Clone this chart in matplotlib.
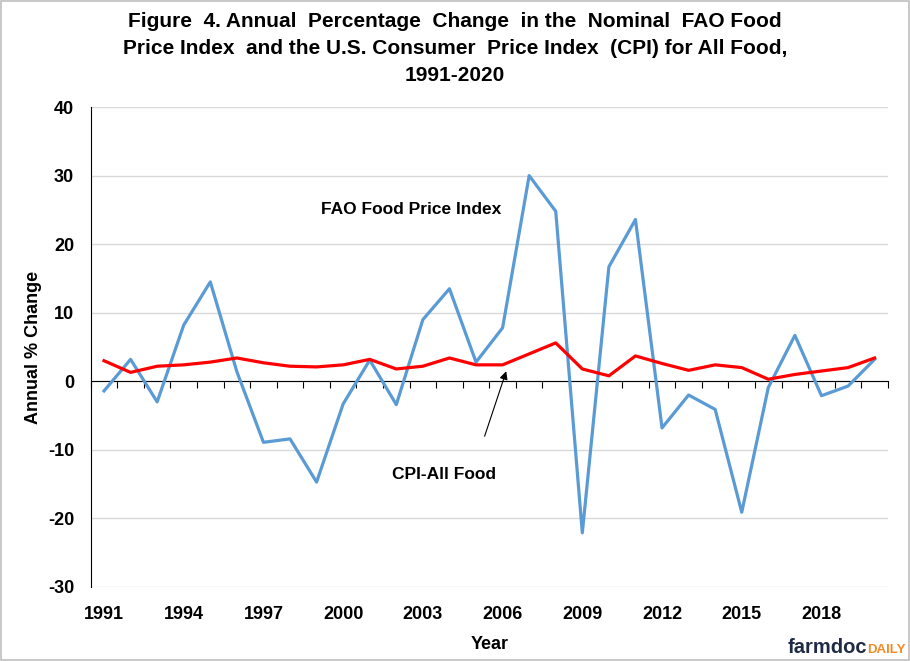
import numpy as np
import matplotlib
matplotlib.use('Agg')
import matplotlib.pyplot as plt
from matplotlib.patches import Rectangle

plt.rcParams['font.family'] = ['Liberation Sans', 'DejaVu Sans']
plt.rcParams['axes.unicode_minus'] = False

years = list(range(1991, 2021))
fao = [-1.4, 3.2, -3.0, 8.2, 14.5, 1.4, -8.9, -8.4, -14.7, -3.3,
       3.1, -3.4, 9.0, 13.5, 2.8, 7.8, 30.0, 24.8, -22.1, 16.7,
       23.6, -6.8, -2.0, -4.1, -19.1, -0.9, 6.7, -2.1, -0.7, 3.2]
cpi = [3.0, 1.3, 2.2, 2.4, 2.8, 3.4, 2.7, 2.2, 2.1, 2.4,
       3.2, 1.8, 2.2, 3.4, 2.4, 2.4, 4.0, 5.6, 1.8, 0.8,
       3.7, 2.6, 1.6, 2.4, 2.0, 0.3, 1.0, 1.5, 2.0, 3.4]
label_years = years[::3]

fig = plt.figure(figsize=(9.1, 6.61), dpi=100)
ax = fig.add_axes([0.0997, 0.112, 0.876, 0.726])

x = np.arange(len(years))
ax.plot(x, fao, color='#5b9bd5', lw=2.3, zorder=3)
ax.plot(x, cpi, color='#ff0000', lw=2.3, zorder=4)

ax.set_xlim(-0.5, len(years) - 0.5)
ax.set_ylim(-30, 40)
ax.set_yticks(range(-30, 41, 10))
ax.grid(axis='y', color='#d9d9d9', lw=1)
ax.set_axisbelow(True)

for s in ['top', 'right']:
    ax.spines[s].set_visible(False)
ax.spines['left'].set_color('black')
ax.spines['bottom'].set_position(('data', 0))
ax.spines['bottom'].set_color('black')
ax.spines['bottom'].set_zorder(2)

# boundary ticks on the zero line
ax.set_xticks(np.arange(-0.5, len(years), 1.0))
ax.tick_params(axis='x', length=5, direction='out', labelbottom=False, color='black')
ax.tick_params(axis='y', length=0, labelsize=13, pad=12)
for t in ax.get_yticklabels():
    t.set_fontweight('bold')

# year labels at the bottom
sec = ax.secondary_xaxis(0.0)
sec.set_xticks([years.index(y) for y in label_years])
sec.set_xticklabels([str(y) for y in label_years], fontsize=13, fontweight='bold')
sec.tick_params(length=0, pad=14)
sec.spines['bottom'].set_visible(False)
sec.set_xlabel('Year', fontsize=13, fontweight='bold', labelpad=9)

ax.set_ylabel('Annual % Change', fontsize=13, fontweight='bold', labelpad=4)

fig.suptitle('Figure  4. Annual  Percentage  Change  in the  Nominal  FAO Food\n'
             'Price Index  and the U.S. Consumer  Price Index  (CPI) for All Food,\n'
             '1991-2020',
             fontsize=15, fontweight='bold', y=0.982, linespacing=1.55)

ax.text(11.57, 25.1, 'FAO Food Price Index', fontsize=12.5, fontweight='bold',
        ha='center', va='center')
ax.text(12.8, -13.6, 'CPI-All Food', fontsize=12.5, fontweight='bold',
        ha='center', va='center')
ax.annotate('', xy=(15.17, 1.85), xytext=(14.29, -8.4),
            arrowprops=dict(arrowstyle='-|>', color='black', lw=0.8,
                            mutation_scale=12))

# logo
fig.text(0.866, 0.006, 'farmdoc', color='#1f2a44', fontsize=14.5,
         fontweight='bold', ha='left', va='bottom')
fig.text(0.953, 0.008, 'DAILY', color='#f28c28', fontsize=9.5,
         fontweight='bold', ha='left', va='bottom')

fig.patches.append(Rectangle((0.001, 0.001), 0.998, 0.997, transform=fig.transFigure,
                             fill=False, edgecolor='#bfbfbf', lw=1.2))

fig.savefig('out.png', dpi=100)
